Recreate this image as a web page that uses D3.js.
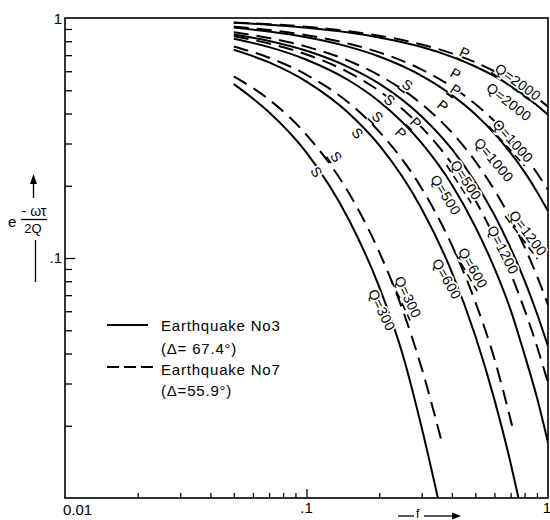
<!DOCTYPE html>
<html>
<head>
<meta charset="utf-8">
<script src="https://cdn.jsdelivr.net/npm/d3@7"></script>
<style>
  body { margin: 0; background: #fff; }
  svg text { font-family: "Liberation Sans", Arial, sans-serif; fill: #000; }
</style>
</head>
<body>
<svg id="chart"></svg>
<script>
var freq = [0.05, 0.07, 0.1, 0.15, 0.2, 0.3, 0.4, 0.5, 0.6, 0.7, 0.8, 0.9, 1.0];

// P waves, earthquake No3 (solid) and No7 (dashed)
var p2000_no7 = [0.958, 0.942, 0.919, 0.880, 0.844, 0.775, 0.712, 0.654, 0.600, 0.552, 0.507, 0.465, 0.427];
var p2000_no3 = [0.955, 0.937, 0.911, 0.870, 0.830, 0.757, 0.689, 0.628, 0.572, 0.521, 0.475, 0.433, 0.395];
var p1000_no7 = [0.921, 0.891, 0.848, 0.781, 0.719, 0.610, 0.517, 0.438, 0.372, 0.315, 0.267, 0.226, 0.192];
var p1000_no3 = [0.912, 0.879, 0.831, 0.758, 0.691, 0.574, 0.477, 0.397, 0.330, 0.274, 0.228, 0.189, 0.157];
var p500_no7  = [0.839, 0.783, 0.705, 0.592, 0.497, 0.350, 0.247, 0.174, 0.122, 0.0863, 0.0608, 0.0429, 0.0302];
var p500_no3  = [0.819, 0.756, 0.670, 0.549, 0.449, 0.301, 0.202, 0.135, 0.0907, 0.0608, 0.0395, 0.0262, 0.0170];

// S waves
var s1200_no7 = [0.872, 0.825, 0.760, 0.662, 0.577, 0.438, 0.333, 0.253, 0.192, 0.146, 0.111, 0.0842, 0.0639];
var s1200_no3 = [0.854, 0.802, 0.730, 0.623, 0.533, 0.389, 0.284, 0.207, 0.151, 0.110, 0.0805, 0.0587, 0.0429];

var freqS600_no7 = [0.05, 0.07, 0.1, 0.15, 0.2, 0.3, 0.4, 0.5, 0.6, 0.71];
var s600_no7     = [0.761, 0.683, 0.580, 0.442, 0.336, 0.195, 0.113, 0.0656, 0.0380, 0.0200];
var freqS600_no3 = [0.05, 0.07, 0.1, 0.15, 0.2, 0.3, 0.4, 0.5, 0.6, 0.7, 0.755];
var s600_no3     = [0.737, 0.653, 0.543, 0.400, 0.295, 0.160, 0.0872, 0.0474, 0.0257, 0.0140, 0.0100];

var freqS300_no7 = [0.05, 0.07, 0.1, 0.15, 0.2, 0.25, 0.3, 0.36];
var s300_no7     = [0.571, 0.457, 0.326, 0.186, 0.106, 0.0608, 0.0347, 0.0177];
var freqS300_no3 = [0.05, 0.07, 0.1, 0.15, 0.2, 0.25, 0.3, 0.35];
var s300_no3     = [0.530, 0.405, 0.275, 0.144, 0.0758, 0.0397, 0.0196, 0.0100];

// curve labels: text, f, value, angle, dashed curve?
var qText   = ["Q=2000", "Q=2000", "Q=1000", "Q=1000", "Q=500", "Q=500", "Q=1200", "Q=1200", "Q=600", "Q=600", "Q=300", "Q=300"];
var qF      = [0.751, 0.689, 0.716, 0.597, 0.457, 0.377, 0.826, 0.651, 0.489, 0.381, 0.263, 0.205];
var qV      = [0.541, 0.447, 0.307, 0.256, 0.211, 0.183, 0.127, 0.108, 0.0909, 0.0818, 0.0688, 0.0607];
var qAngle  = [36, 38, 48, 50, 57, 58, 53, 63, 60, 60, 65, 64];
var qDashed = [true, false, true, false, true, false, true, false, true, false, true, false];

var waveText   = ["S", "S", "S", "S", "S", "S", "P", "P", "P", "P", "P", "P"];
var waveF      = [0.110, 0.133, 0.163, 0.197, 0.221, 0.262, 0.452, 0.415, 0.415, 0.367, 0.284, 0.246];
var waveV      = [0.228, 0.264, 0.331, 0.387, 0.455, 0.526, 0.715, 0.584, 0.501, 0.430, 0.365, 0.331];
var waveAngle  = [56, 55, 50, 45, 40, 35, 25, 30, 35, 40, 45, 45];
var waveDashed = [false, true, false, true, false, true, true, false, true, false, true, false];

var yMinor = [0.02, 0.03, 0.04, 0.05, 0.06, 0.07, 0.08, 0.09, 0.2, 0.3, 0.4, 0.5, 0.6, 0.7, 0.8, 0.9];
var xMinor = [0.02, 0.03, 0.04, 0.05, 0.06, 0.07, 0.08, 0.09, 0.2, 0.3, 0.4, 0.5, 0.6, 0.7, 0.8, 0.9];

var width = 550, height = 520;
var plotL = 65, plotR = 548, plotT = 18, plotB = 498;

var svg = d3.select("#chart").attr("width", width).attr("height", height);
svg.append("rect").attr("width", width).attr("height", height).attr("fill", "#fff");

var x = d3.scaleLog().domain([0.01, 1]).range([plotL, plotR]);
var y = d3.scaleLog().domain([0.01, 1]).range([plotB, plotT]);

svg.append("clipPath").attr("id", "plotclip")
  .append("rect").attr("x", plotL).attr("y", plotT)
  .attr("width", plotR - plotL).attr("height", plotB - plotT);

// ticks, pointing into the plot
function tickAxis(axis, vals, size, tr) {
  var g = svg.append("g").attr("transform", tr)
    .call(axis.tickValues(vals).tickSize(size).tickSizeOuter(0).tickFormat(""));
  g.select(".domain").remove();
  g.selectAll("line").attr("stroke", "#000").attr("stroke-width", 1.3);
}
tickAxis(d3.axisRight(y), yMinor, 7, "translate(" + plotL + ",0)");
tickAxis(d3.axisRight(y), [0.1], 10, "translate(" + plotL + ",0)");
tickAxis(d3.axisTop(x), xMinor, 5, "translate(0," + plotB + ")");
tickAxis(d3.axisTop(x), [0.1], 9, "translate(0," + plotB + ")");

svg.append("rect")
  .attr("x", plotL).attr("y", plotT)
  .attr("width", plotR - plotL).attr("height", plotB - plotT)
  .attr("fill", "none").attr("stroke", "#000").attr("stroke-width", 1.6);

// tick labels
svg.append("text").attr("x", 62).attr("y", y(1) + 6).attr("text-anchor", "end")
  .style("font-size", "15px").text("1");
svg.append("text").attr("x", 62).attr("y", y(0.1) + 5).attr("text-anchor", "end")
  .style("font-size", "15px").text(".1");
svg.append("text").attr("x", x(0.01) - 2).attr("y", 515)
  .style("font-size", "15px").text("0.01");
svg.append("text").attr("x", x(0.1)).attr("y", 513).attr("text-anchor", "middle")
  .style("font-size", "15px").text(".1");
svg.append("text").attr("x", x(1) + 3).attr("y", 513).attr("text-anchor", "end")
  .style("font-size", "15px").text("1");

// curves
var curves = [
  {f: freq, v: p2000_no7, dashed: true},
  {f: freq, v: p2000_no3, dashed: false},
  {f: freq, v: p1000_no7, dashed: true},
  {f: freq, v: p1000_no3, dashed: false},
  {f: freq, v: p500_no7, dashed: true},
  {f: freq, v: p500_no3, dashed: false},
  {f: freq, v: s1200_no7, dashed: true},
  {f: freq, v: s1200_no3, dashed: false},
  {f: freqS600_no7, v: s600_no7, dashed: true},
  {f: freqS600_no3, v: s600_no3, dashed: false},
  {f: freqS300_no7, v: s300_no7, dashed: true},
  {f: freqS300_no3, v: s300_no3, dashed: false}
];

var line = d3.line()
  .x(function(d) { return x(d[0]); })
  .y(function(d) { return y(d[1]); })
  .curve(d3.curveMonotoneX);

svg.append("g").attr("clip-path", "url(#plotclip)")
  .selectAll("path")
  .data(curves)
  .enter()
  .append("path")
  .attr("d", function(c) { return line(c.f.map(function(f, i) { return [f, c.v[i]]; })); })
  .attr("fill", "none")
  .attr("stroke", "#000")
  .attr("stroke-width", 2)
  .attr("stroke-dasharray", function(c) { return c.dashed ? "15,8" : null; });

// labels along the curves
function curveLabel(txt, f, v, angle, dashed) {
  var g = svg.append("g")
    .attr("transform", "translate(" + x(f) + "," + y(v) + ") rotate(" + angle + ")");
  var t = g.append("text")
    .attr("text-anchor", "middle")
    .attr("dy", "0.35em")
    .style("font-size", "14px")
    .style("letter-spacing", "0.4px")
    .attr("stroke", "#fff").attr("stroke-width", 3.5)
    .attr("paint-order", "stroke")
    .text(txt);
  if (dashed) {
    var w = t.node().getComputedTextLength();
    g.append("line")
      .attr("x1", -w / 2 - 1).attr("x2", w / 2)
      .attr("y1", 8).attr("y2", 8)
      .attr("stroke", "#000").attr("stroke-width", 1.6)
      .attr("stroke-dasharray", "8,5");
  }
}
for (var i = 0; i < qText.length; i++) {
  curveLabel(qText[i], qF[i], qV[i], qAngle[i], qDashed[i]);
}
for (var j = 0; j < waveText.length; j++) {
  curveLabel(waveText[j], waveF[j], waveV[j], waveAngle[j], waveDashed[j]);
}

// legend
var leg = svg.append("g");
leg.append("line").attr("x1", 107).attr("x2", 148).attr("y1", 325).attr("y2", 325)
  .attr("stroke", "#000").attr("stroke-width", 2);
leg.append("line").attr("x1", 107).attr("x2", 153).attr("y1", 367).attr("y2", 367)
  .attr("stroke", "#000").attr("stroke-width", 2).attr("stroke-dasharray", "12,5");

function legText(xx, yy, s) {
  leg.append("text").attr("x", xx).attr("y", yy)
    .style("font-size", "15px").style("letter-spacing", "0.8px").text(s);
}
legText(161, 331, "Earthquake No3");
legText(161, 354, "(\u0394= 67.4\u00b0)");
legText(161, 375, "Earthquake No7");
legText(161, 396, "(\u0394=55.9\u00b0)");

// y axis title
var yl = svg.append("g");
yl.append("text").attr("x", 8).attr("y", 227).style("font-size", "15px").text("e");
yl.append("text").attr("x", 34).attr("y", 216).attr("text-anchor", "middle")
  .style("font-size", "14px").text("- \u03c9\u03c4");
yl.append("line").attr("x1", 21).attr("x2", 47).attr("y1", 219.5).attr("y2", 219.5)
  .attr("stroke", "#000").attr("stroke-width", 1.3);
yl.append("text").attr("x", 33).attr("y", 233).attr("text-anchor", "middle")
  .style("font-size", "13px").text("2Q");
yl.append("line").attr("x1", 33.5).attr("x2", 33.5).attr("y1", 198).attr("y2", 182)
  .attr("stroke", "#000").attr("stroke-width", 1.3);
yl.append("path").attr("d", "M30,184 L37,184 L33.5,174 Z").attr("fill", "#000");
yl.append("line").attr("x1", 35.5).attr("x2", 35.5).attr("y1", 240).attr("y2", 282)
  .attr("stroke", "#000").attr("stroke-width", 1.3);

// x axis title
var xl = svg.append("g");
xl.append("line").attr("x1", 398).attr("x2", 414).attr("y1", 516).attr("y2", 516)
  .attr("stroke", "#000").attr("stroke-width", 1.3);
xl.append("text").attr("x", 416).attr("y", 518).style("font-size", "12px").text("f");
xl.append("line").attr("x1", 424).attr("x2", 453).attr("y1", 516).attr("y2", 516)
  .attr("stroke", "#000").attr("stroke-width", 1.3);
xl.append("path").attr("d", "M452,512.5 L452,519.5 L461,516 Z").attr("fill", "#000");
</script>
</body>
</html>
